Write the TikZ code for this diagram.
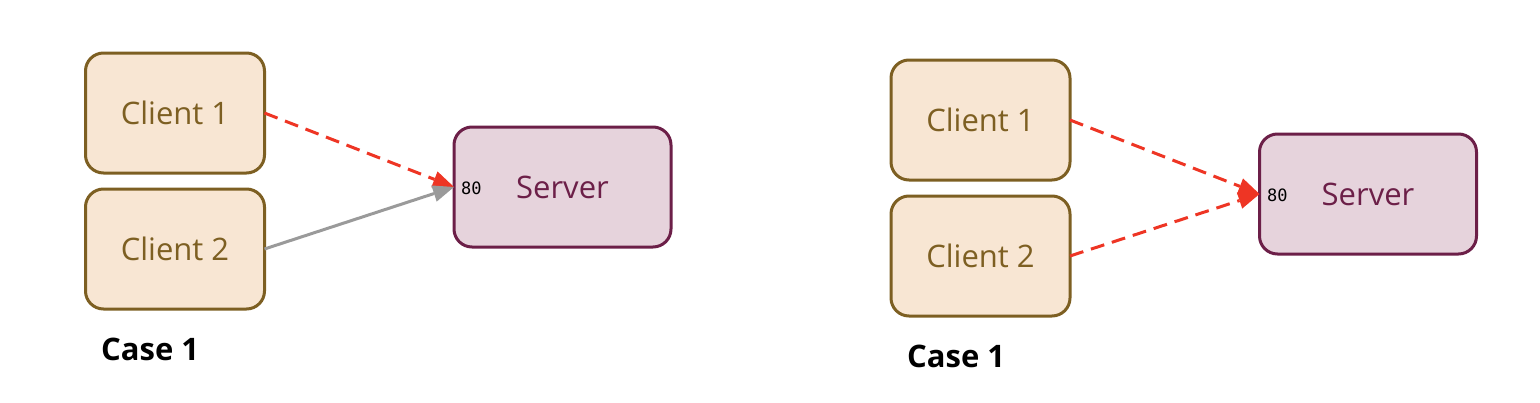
\documentclass[tikz,border=0pt]{standalone}
\usepackage{fontspec}
\setmainfont{Open Sans}
\newfontfamily\monofnt{DejaVu Sans Mono}
\usetikzlibrary{arrows.meta}
\definecolor{cfill}{HTML}{F8E6D3}
\definecolor{cdraw}{HTML}{7D5F22}
\definecolor{sfill}{HTML}{E6D3DC}
\definecolor{sdraw}{HTML}{6C1F48}
\definecolor{redline}{HTML}{EE3524}
\definecolor{grayline}{HTML}{9A9A9A}
\tikzset{
  clientbox/.style={draw=cdraw, fill=cfill, line width=3pt, rounded corners=18pt,
    minimum width=179pt, minimum height=120pt, text=cdraw, font=\fontsize{31}{33}\selectfont, outer sep=0pt},
  serverbox/.style={draw=sdraw, fill=sfill, line width=3pt, rounded corners=18pt,
    minimum width=217pt, minimum height=120pt, text=sdraw, font=\fontsize{31}{33}\selectfont, outer sep=0pt},
  portlbl/.style={font=\monofnt\fontsize{17}{18}\selectfont, text=black, anchor=west, inner sep=0pt},
  caselbl/.style={font=\bfseries\fontsize{31}{33}\selectfont, text=black, anchor=west, inner sep=0pt},
  redarrow/.style={draw=redline, line width=3pt, dash pattern=on 14pt off 8pt,
    -{Triangle[length=21pt,width=17pt,fill=redline,line width=0pt]}},
  grayarrow/.style={draw=grayline, line width=3pt,
    -{Triangle[length=21pt,width=17pt,fill=grayline,line width=0pt]}}
}
\begin{document}
\begin{tikzpicture}[x=1pt,y=-1pt]
\useasboundingbox (0,0) rectangle (1540,402);
% left
\node[clientbox] (c1) at (175,113) {Client 1};
\node[clientbox] (c2) at (175,249) {Client 2};
\node[serverbox] (s) at (562.5,187) {Server};
\node[portlbl] (p) at (461,188) {80};
\node[caselbl] (k) at (101,349) {Case 1};
\draw[redarrow] (c1.east) -- (s.west);
\draw[grayarrow] (c2.east) -- (s.west);
% right
\node[clientbox] (d1) at (980.5,120) {Client 1};
\node[clientbox] (d2) at (980.5,256) {Client 2};
\node[serverbox] (t) at (1368,194) {Server};
\node[portlbl] (q) at (1267,195) {80};
\node[caselbl] (m) at (907,356) {Case 1};
\draw[redarrow] (d1.east) -- (t.west);
\draw[redarrow] (d2.east) -- (t.west);
\end{tikzpicture}
\end{document}
